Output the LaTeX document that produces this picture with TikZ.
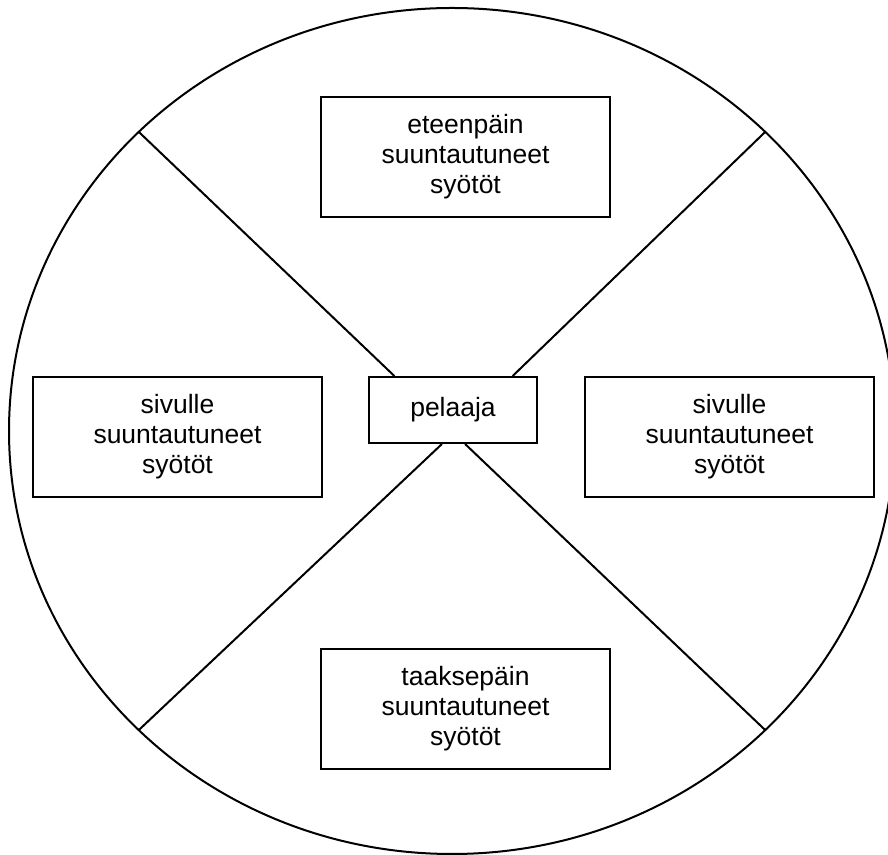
\documentclass[tikz,border=0pt]{standalone}
\usepackage{fontspec}
\setmainfont{Liberation Sans}
\usetikzlibrary{calc}

\tikzset{
  suunta/.style={draw, rectangle, line width=1pt, minimum width=144.5pt, minimum height=60pt,
    inner sep=0pt, align=center, font=\fontsize{13.25}{15}\selectfont},
  keskus/.style={draw, rectangle, line width=1pt, minimum width=84pt, minimum height=33pt,
    inner sep=0pt, font=\fontsize{13.25}{15}\selectfont}
}

\begin{document}
\begin{tikzpicture}[x=0.5pt, y=0.5pt, line width=1pt]
				\useasboundingbox (0,0) rectangle (888,855);
				\clip (0,0) rectangle (888,855);
				\coordinate (K) at (452,424);
				\draw (K) ellipse [x radius=443, y radius=423];
				\coordinate (YV) at ($(K)+(135:443 and 423)$);
				\coordinate (YO) at ($(K)+(45:443 and 423)$);
				\coordinate (AV) at ($(K)+(225:443 and 423)$);
				\coordinate (AO) at ($(K)+(315:443 and 423)$);
				\node[suunta] (eteen)at(465.5, 698) {eteenpäin\\suuntautuneet\\syötöt};
				\node[suunta] (vasen)at(177.5, 418) {sivulle\\suuntautuneet\\syötöt};
				\node[suunta] (oikea)at(729.5, 418) {sivulle\\suuntautuneet\\syötöt};
				\node[suunta] (taakse)at(465.5, 146) {taaksepäin\\suuntautuneet\\syötöt};
				\node[keskus] (pel)at(453, 445) {pelaaja};
				\draw (YV) -- ($(pel.north west)!0.155!(pel.north east)$);
				\draw (YO) -- ($(pel.north west)!0.851!(pel.north east)$);
				\draw (AV) -- ($(pel.south west)!0.435!(pel.south east)$);
				\draw (AO) -- ($(pel.south west)!0.571!(pel.south east)$);
			\end{tikzpicture}
\end{document}
